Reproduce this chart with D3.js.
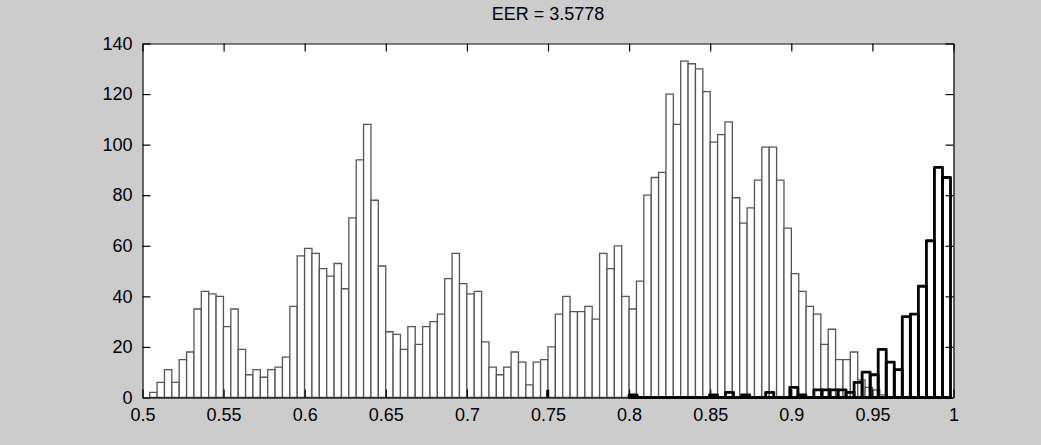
<!DOCTYPE html>
<html><head><meta charset="utf-8">
<script src="https://cdn.jsdelivr.net/npm/d3@7/dist/d3.min.js"></script>
<style>html,body{margin:0;padding:0;background:#cccccc;}svg{display:block;}</style>
</head><body><svg id="chart" width="1041" height="445"></svg>
<script>
// ---- data ----
const titleText = "EER = 3.5778";
const xTicks = [0.5, 0.55, 0.6, 0.65, 0.7, 0.75, 0.8, 0.85, 0.9, 0.95, 1];
const xTickLabels = ["0.5", "0.55", "0.6", "0.65", "0.7", "0.75", "0.8", "0.85", "0.9", "0.95", "1"];
const yTicks = [0, 20, 40, 60, 80, 100, 120, 140];
const yTickLabels = ["0", "20", "40", "60", "80", "100", "120", "140"];

// impostor score histogram (thin outline), 100 bins
const impostorBinStart = 0.50444;
const impostorBinWidth = 0.004547;
const impostorCounts = [
  2, 6, 11, 6, 15, 18, 35, 42, 41, 40, 28, 35, 19, 9, 11, 8, 11,
  12, 16, 36, 56, 59, 57, 51, 48, 53, 43, 71, 94, 108, 78, 52, 26, 25, 19, 28,
  21, 28, 30, 33, 47, 57, 45, 41, 42, 22, 12, 9, 12, 18, 14, 5, 14, 15, 20,
  33, 40, 34, 34, 36, 31, 57, 51, 60, 40, 35, 46, 80, 87, 89, 120, 108, 133,
  132, 130, 121, 101, 104, 109, 79, 69, 75, 86, 99, 99, 86, 67, 49, 42, 36, 33, 21,
  27, 15, 15, 18, 7, 4, 3, 1
];

// genuine score histogram (thick outline), 40 bins
const genuineBinStart = 0.8;
const genuineBinWidth = 0.004954;
const genuineCounts = [
  1, 0, 0, 0, 0, 0, 0, 0, 0, 0,
  1, 0, 2, 0, 1, 0, 0, 2, 0, 0,
  4, 1, 0, 3, 3, 3, 3, 2, 6, 10,
  9, 19, 14, 11, 32, 33, 44, 62, 91, 87
];

// isolated genuine sample
const outlierX = [0.7498];
const outlierCounts = [3];

// ---- drawing ----
const svg = d3.select("#chart");
const L = 142.5, R = 953.5, T = 43.5, B = 397.5;
const x = d3.scaleLinear().domain([0.5, 1]).range([L, R]);
const y = d3.scaleLinear().domain([0, 140]).range([B, T]);
const FONT = "'Liberation Sans', Arial, sans-serif";

svg.append("rect").attr("x", L).attr("y", T).attr("width", R - L).attr("height", B - T).attr("fill", "#ffffff");

const barPath = d => `M${x(d.x0)},${y(0)}V${y(d.c)}H${x(d.x1)}V${y(0)}Z`;

const imp = impostorCounts.map((c, i) => ({x0: impostorBinStart + i * impostorBinWidth, x1: impostorBinStart + (i + 1) * impostorBinWidth, c}));
svg.append("g").selectAll("path").data(imp).join("path")
  .attr("d", barPath)
  .attr("fill", "#ffffff").attr("stroke", "#555555").attr("stroke-width", 1.3);

const gen = genuineCounts.map((c, i) => ({x0: genuineBinStart + i * genuineBinWidth, x1: genuineBinStart + (i + 1) * genuineBinWidth, c}));
svg.append("g").selectAll("path").data(gen).join("path")
  .attr("d", barPath)
  .attr("fill", "none").attr("stroke", "#000000").attr("stroke-width", 2.8).attr("stroke-linejoin", "round");

svg.append("g").selectAll("line").data(outlierX.map((v, i) => ({v, c: outlierCounts[i]}))).join("line")
  .attr("x1", d => x(d.v)).attr("x2", d => x(d.v)).attr("y1", y(0)).attr("y2", d => y(d.c))
  .attr("stroke", "#000000").attr("stroke-width", 3);

// axes (ticks inward, box)
const axB = svg.append("g").attr("transform", `translate(0,${B})`)
  .call(d3.axisBottom(x).tickValues(xTicks).tickFormat((d, i) => xTickLabels[i]).tickSizeInner(-8).tickSizeOuter(0).tickPadding(11));
const axT = svg.append("g").attr("transform", `translate(0,${T})`)
  .call(d3.axisTop(x).tickValues(xTicks).tickFormat("").tickSizeInner(-8).tickSizeOuter(0));
const axL = svg.append("g").attr("transform", `translate(${L},0)`)
  .call(d3.axisLeft(y).tickValues(yTicks).tickFormat((d, i) => yTickLabels[i]).tickSizeInner(-8).tickSizeOuter(0).tickPadding(10));
const axR = svg.append("g").attr("transform", `translate(${R},0)`)
  .call(d3.axisRight(y).tickValues(yTicks).tickFormat("").tickSizeInner(-8).tickSizeOuter(0));
[axB, axT, axL, axR].forEach(g => {
  g.selectAll("path.domain").attr("stroke", "#000").attr("stroke-width", 1.2);
  g.selectAll(".tick line").attr("stroke", "#000").attr("stroke-width", 1.2);
  g.selectAll("text").attr("fill", "#000").style("font-family", FONT).style("font-size", "18px");
});

svg.append("text").attr("x", (L + R) / 2).attr("y", 20).attr("text-anchor", "middle")
  .style("font-family", FONT).style("font-size", "18px").attr("fill", "#000").text(titleText);
</script></body></html>
